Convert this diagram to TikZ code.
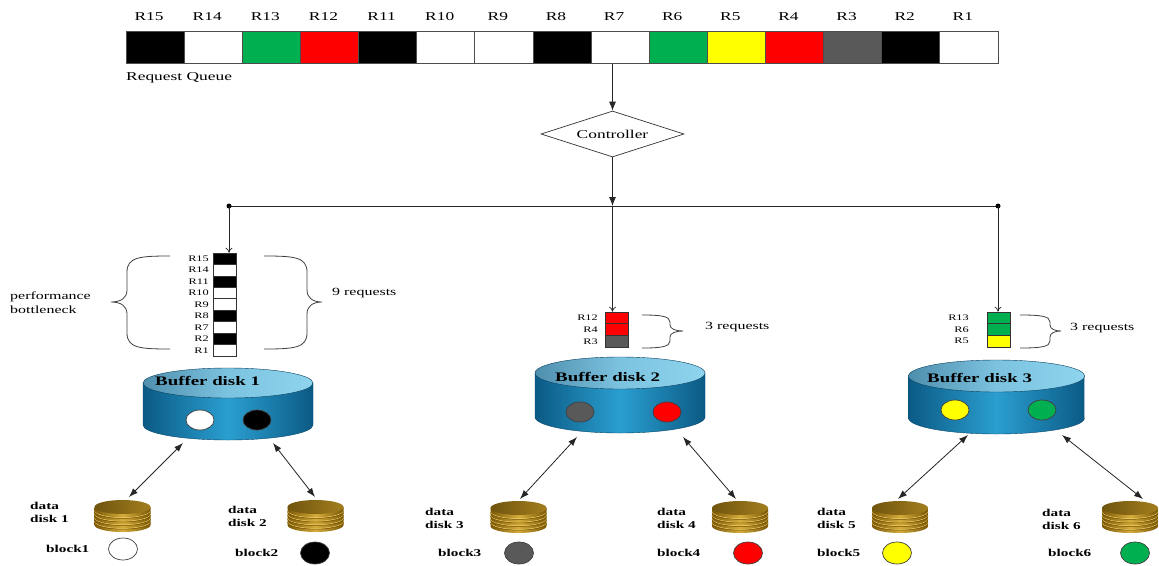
\documentclass[tikz,border=0pt]{standalone}
\usepackage{fontspec}
\setmainfont{Liberation Serif}[FakeStretch=1.45]
\usetikzlibrary{arrows.meta,shapes.geometric}

\definecolor{qgreen}{HTML}{00B050}
\definecolor{qred}{HTML}{FF0000}
\definecolor{qyellow}{HTML}{FFFF00}
\definecolor{qgray}{HTML}{595959}
\definecolor{cellline}{HTML}{4D4D4D}
\definecolor{bufedge}{HTML}{0B5A85}
\definecolor{bufmid}{HTML}{2A9FD0}
\definecolor{buftopA}{HTML}{4F8FAE}
\definecolor{buftopB}{HTML}{8ED4EE}
\definecolor{buftopC}{HTML}{7CC3E0}
\definecolor{golddark}{HTML}{7A5806}
\definecolor{goldmid}{HTML}{D6AC3A}
\definecolor{goldtop}{HTML}{8C6A12}
\definecolor{goldline}{HTML}{F0D070}

% buffer cylinder: centre x, top-face centre y, bottom-face centre y, x radius, y radius
\newcommand\bufferdisk[5]{%
  \path[left color=bufedge, right color=bufedge, middle color=bufmid,
        draw=bufedge!80!black, line width=0.4pt]
    (#1-#4,#2) -- (#1-#4,#3)
    arc[start angle=180, end angle=360, x radius=#4pt, y radius=#5pt]
    -- (#1+#4,#2) -- cycle;
  \path[left color=buftopA, right color=buftopB, middle color=buftopC,
        draw=bufedge!70!black, line width=0.4pt]
    (#1,#2) ellipse[x radius=#4pt, y radius=#5pt];
}

% gold platter stack: centre x, top-face centre y, bottom-face centre y
\newcommand\datadisk[3]{%
  \path[left color=golddark, right color=golddark, middle color=goldmid]
    (#1-28,#2) -- (#1-28,#3)
    arc[start angle=180, end angle=360, x radius=28pt, y radius=7pt]
    -- (#1+28,#2) -- cycle;
  \foreach \k in {1,...,4}{
    \draw[goldline, line width=0.5pt] (#1-28,#2+3.6*\k)
      arc[start angle=180, end angle=360, x radius=28pt, y radius=7pt];
    \draw[golddark, line width=0.5pt] (#1-28,#2+3.6*\k+0.8)
      arc[start angle=180, end angle=360, x radius=28pt, y radius=7pt];
  }
  \path[left color=goldtop!80!black, right color=goldtop!70!goldmid]
    (#1,#2) ellipse[x radius=28pt, y radius=7pt];
}

\begin{document}
\begin{tikzpicture}[x=1pt,y=-1pt,
  qcell/.style={draw=cellline, line width=0.7pt, minimum width=58.13pt,
                minimum height=31.6pt, inner sep=0pt},
  qlabel/.style={font=\fontsize{12}{14}\selectfont, inner sep=0pt},
  scell/.style={draw=black!80, line width=0.6pt, minimum width=23pt, inner sep=0pt},
  slabel/.style={font=\fontsize{8.5}{10}\selectfont, anchor=east, inner sep=0pt},
  notetext/.style={font=\fontsize{11}{14}\selectfont, inner sep=0pt, anchor=west},
  diskname/.style={font=\bfseries\fontsize{13}{15}\selectfont, inner sep=0pt, anchor=west},
  ddlabel/.style={font=\bfseries\fontsize{10.5}{13}\selectfont, inner sep=0pt,
                  anchor=west, align=left},
  blockdot/.style={ellipse, draw=black!75, line width=0.7pt, minimum width=28pt,
                   minimum height=20pt, inner sep=0pt},
  bracepath/.style={draw=black!75, line width=0.8pt},
  flowarrow/.style={draw=black!85, line width=0.8pt, -{Latex[length=9pt,width=7pt]}},
  feedarrow/.style={draw=black!85, line width=0.7pt, -{To[length=5pt,width=7pt]}},
  linkarrow/.style={draw=black!85, line width=0.8pt,
                    {Latex[length=9pt,width=6.5pt]}-{Latex[length=9pt,width=6.5pt]}},
]
\useasboundingbox (0,0) rectangle (1159,565);
\fill[white] (0,0) rectangle (1159,565);

% ---- request queue ----
\foreach \c [count=\i] in {black,white,qgreen,qred,black,white,white,black,white,
                           qgreen,qyellow,qred,qgray,black,white}{
  \pgfmathtruncatemacro\rn{16-\i}
  \node[qcell, fill=\c] (q\rn) at ({126+58.13*(\i-0.5)},47.5) {};
  \node[qlabel] (ql\rn) at ({120+58.13*(\i-0.5)},17) {R\rn};
}
\node[qlabel, anchor=west] (rq) at (126,78) {Request Queue};

% ---- controller and dispatch line ----
\node[diamond, aspect=3.1, draw=black!80, line width=0.7pt, minimum width=143pt,
      minimum height=46pt, inner sep=0pt, font=\fontsize{12}{14}\selectfont]
      (ctrl) at (612.5,134) {Controller};
\coordinate (hub) at (612.5,206);
\coordinate (hl) at (229,206);
\coordinate (hr) at (998,206);
\draw[flowarrow] (ctrl.north |- q7.south) -- (ctrl.north);
\draw[flowarrow] (ctrl.south) -- (hub);
\draw[black!85, line width=0.8pt] (hl) -- (hr);
\fill (hl) circle[radius=2.5pt];
\fill (hr) circle[radius=2.5pt];

% ---- per-buffer request stacks ----
\foreach \c/\r [count=\i] in {black/15,white/14,black/11,white/10,white/9,
                               black/8,white/7,black/2,white/1}{
  \node[scell, fill=\c, minimum height=11.44pt] (sa\r) at (224.5,{253+11.44*(\i-0.5)}) {};
  \node[slabel] (sla\r) at (209,{253+11.44*(\i-0.5)}) {R\r};
}
\foreach \c/\r [count=\i] in {qred/12,qred/4,qgray/3}{
  \node[scell, fill=\c, minimum height=11.7pt] (sb\r) at (617,{312+11.7*(\i-0.5)}) {};
  \node[slabel] (slb\r) at (598,{312+11.7*(\i-0.5)}) {R\r};
}
\foreach \c/\r [count=\i] in {qgreen/13,qgreen/6,qyellow/5}{
  \node[scell, fill=\c, minimum height=11.7pt] (sc\r) at (998.5,{312+11.7*(\i-0.5)}) {};
  \node[slabel] (slc\r) at (969,{312+11.7*(\i-0.5)}) {R\r};
}
\draw[feedarrow] (hl) -- (hl |- sa15.north);
\draw[feedarrow] (hub) -- (hub |- sb12.north);
\draw[feedarrow] (hr) -- (hr |- sc13.north);

% ---- braces ----
\draw[bracepath] (170,256) .. controls (140,256) and (127,257) .. (127,272) -- (127,290)
  .. controls (127,298) and (121,302) .. (111,302)
  .. controls (121,302) and (127,306) .. (127,314) -- (127,333)
  .. controls (127,348) and (140,349) .. (170,349);
\draw[bracepath] (264,256) .. controls (294,256) and (307,257) .. (307,272) -- (307,290)
  .. controls (307,298) and (313,302) .. (322,302)
  .. controls (313,302) and (307,306) .. (307,314) -- (307,333)
  .. controls (307,348) and (294,349) .. (264,349);
\draw[bracepath] (642,315) .. controls (660,315) and (670,316) .. (670,322) -- (670,325)
  .. controls (670,329) and (676,331) .. (683,331)
  .. controls (676,331) and (670,333) .. (670,337) -- (670,341)
  .. controls (670,347) and (660,348) .. (642,348);
\draw[bracepath] (1020,315) .. controls (1040,315) and (1050,316) .. (1050,322) -- (1050,325)
  .. controls (1050,329) and (1055,331) .. (1061,331)
  .. controls (1055,331) and (1050,333) .. (1050,337) -- (1050,341)
  .. controls (1050,347) and (1040,348) .. (1020,348);

\node[notetext, align=left] (pb) at (10,303) {performance\\bottleneck};
\node[notetext] (nr1) at (332,293) {9 requests};
\node[notetext] (nr2) at (705,327) {3 requests};
\node[notetext] (nr3) at (1070,328) {3 requests};

% ---- buffer disks ----
\bufferdisk{228}{383}{425}{85}{15}
\bufferdisk{620}{373}{417}{85}{16}
\bufferdisk{996.5}{376}{418}{88}{16}
\node[diskname] (bn1) at (155,381) {Buffer disk 1};
\node[diskname] (bn2) at (555,377) {Buffer disk 2};
\node[diskname] (bn3) at (927,378) {Buffer disk 3};
\node[blockdot, fill=white]   (b1a) at (200,420) {};
\node[blockdot, fill=black]   (b1b) at (257,420) {};
\node[blockdot, fill=qgray]   (b2a) at (580,412) {};
\node[blockdot, fill=qred]    (b2b) at (667,412) {};
\node[blockdot, fill=qyellow] (b3a) at (955,410) {};
\node[blockdot, fill=qgreen]  (b3b) at (1042,410) {};

% ---- data disks ----
\datadisk{122.5}{507}{525}
\datadisk{315.5}{507}{525}
\datadisk{518.5}{508}{526}
\datadisk{740}{508}{526}
\datadisk{900}{508}{526}
\datadisk{1130}{508}{526}

% ---- transfer arrows ----
\coordinate (u1l) at (183,443);  \coordinate (d1l) at (129,497);
\coordinate (u1r) at (273,443);  \coordinate (d1r) at (315,497);
\coordinate (u2l) at (577,437);  \coordinate (d2l) at (520,499);
\coordinate (u2r) at (683,437);  \coordinate (d2r) at (736,499);
\coordinate (u3l) at (968,435);  \coordinate (d3l) at (898,499);
\coordinate (u3r) at (1062,435); \coordinate (d3r) at (1143,499);
\draw[linkarrow] (u1l) -- (d1l);
\draw[linkarrow] (u1r) -- (d1r);
\draw[linkarrow] (u2l) -- (d2l);
\draw[linkarrow] (u2r) -- (d2r);
\draw[linkarrow] (u3l) -- (d3l);
\draw[linkarrow] (u3r) -- (d3r);

% ---- data disk labels and blocks ----
\node[ddlabel] (dl1) at (30,512.5) {data\\disk 1};
\node[ddlabel] (dl2) at (228,516.5) {data\\disk 2};
\node[ddlabel] (dl3) at (425,518.5) {data\\disk 3};
\node[ddlabel] (dl4) at (657,518.5) {data\\disk 4};
\node[ddlabel] (dl5) at (817,518) {data\\disk 5};
\node[ddlabel] (dl6) at (1042,519) {data\\disk 6};
\node[ddlabel] (kl1) at (46,549) {block1};
\node[ddlabel] (kl2) at (235,553) {block2};
\node[ddlabel] (kl3) at (438,553) {block3};
\node[ddlabel] (kl4) at (657,553) {block4};
\node[ddlabel] (kl5) at (817,553) {block5};
\node[ddlabel] (kl6) at (1048,553) {block6};
\node[blockdot, fill=white,   minimum width=29pt, minimum height=22pt] (k1) at (123,549) {};
\node[blockdot, fill=black,   minimum width=29pt, minimum height=22pt] (k2) at (315,553) {};
\node[blockdot, fill=qgray,   minimum width=29pt, minimum height=22pt] (k3) at (519,553) {};
\node[blockdot, fill=qred,    minimum width=29pt, minimum height=22pt] (k4) at (748,553) {};
\node[blockdot, fill=qyellow, minimum width=29pt, minimum height=22pt] (k5) at (897,553) {};
\node[blockdot, fill=qgreen,  minimum width=29pt, minimum height=22pt] (k6) at (1135,553) {};
\end{tikzpicture}
\end{document}
